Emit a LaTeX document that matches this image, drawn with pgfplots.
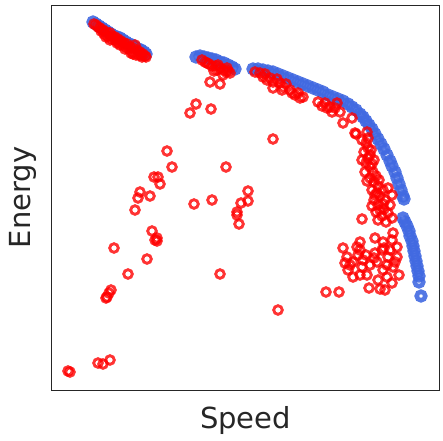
\documentclass[border=0pt]{standalone}
\usepackage{fontspec}
\setmainfont{DejaVu Sans}
\usepackage{pgfplots}
\pgfplotsset{compat=1.18}
\definecolor{rblue}{HTML}{4169E1}
\definecolor{fg}{rgb}{0.15,0.15,0.15}
\begin{document}
\begin{tikzpicture}
\begin{axis}[
  scale only axis, width=387bp, height=385bp,
  xmin=52, xmax=439, ymin=5, ymax=390, y dir=reverse,
  xtick=\empty, ytick=\empty,
  axis line style={draw=fg, line width=1bp},
  xlabel={Speed}, ylabel={Energy},
  xlabel style={at={(axis description cs:0.5,-0.0987)}, anchor=base, inner sep=0pt, font=\fontsize{29bp}{34bp}\selectfont, text=fg},
  ylabel style={at={(axis description cs:-0.0568,0.5)}, anchor=base, inner sep=0pt, rotate=0, font=\fontsize{29bp}{34bp}\selectfont, text=fg},
  clip=false,
]
% blue series
\addplot[only marks, mark=o, mark size=4.3bp, mark options={draw=rblue, line width=4.6bp, draw opacity=0.9}] coordinates {
(93,22)(96,24)(99,26)(102,28)(105,30)(108,32)(111,34)(114,36)(117,37)(120,38)(123,40)(126,42)(129,44)(132,45)(135,47)(138,49)(141,50)(144,52)(146,54)
(196,57)(200,56)(204,57)(208,58)(212,59)(216,60)(220,62)(224,63)(228,65)(232,67)(235,69)
(253,69)(258,69)(263,70)(268,71)(273,72)(278,74)(283,76)(288,78)(293,80)(298,82)(303,84)(308,86)(313,88)(318,90)(323,92)(328,95)(333,97)(338,99)(343,101)(348,104)(352,107)(356,110)(360,114)(363,117)(366,121)(369,125)(372,129)(375,134)(378,139)(381,144)(384,149)(387,155)(390,161)(392,166)(395,172)(397,178)(399,184)(401,190)(403,196)(404,199)
(403,218)(405,222)(407,226)(409,231)(410,236)(412,241)(413,246)(414,251)(415,256)(416,261)(417,266)(418,271)(419,276)(419,282)(421,296)
};
% red series
\addplot[only marks, mark=o, mark size=4.3bp, mark options={draw=red, line width=2.9bp, draw opacity=0.8}] coordinates {
(94,24)(96,25)(98,27)(100,28)(103,30)(106,32)(110,33)(112,36)(115,37)(118,39)(121,41)(124,43)(127,44)(130,47)(133,48)(135,45)(137,50)(140,52)(143,54)(145,56)(141,55)(134,52)(120,45)(110,40)(104,34)(112,39)(118,42)(126,47)(131,53)(136,55)(142,57)(146,57)(101,31)(108,36)(115,40)(123,45)(129,49)(139,55)(106,37)(117,43)(125,49)(133,54)
(202,60)(205,62)(207,63)(212,66)(216,66)(218,65)(220,68)(224,70)(227,68)(228,71)(230,73)(223,75)(217,70)(209,64)(226,72)
(210,82)(220,84)(214,71)
(255,72)(260,73)(263,77)(267,80)(273,82)(280,83)(283,87)(290,90)(295,95)(300,98)(303,97)(273,88)(282,90)(286,84)(277,79)(298,93)(265,74)(270,78)(292,93)
(318,102)(325,103)(330,107)(335,108)(340,112)(332,112)(322,106)(337,103)(327,108)
(343,123)(352,118)(355,133)(367,132)
(356,134)(362,140)(366,143)(368,148)(364,152)(370,155)(362,160)(366,163)(374,160)(370,167)(373,172)(376,176)(370,178)(374,182)(378,186)(372,190)(383,190)(380,196)(388,188)(392,195)(374,200)(378,205)(372,206)(376,212)(382,216)(388,213)(392,218)(384,209)(378,220)(390,205)(367,181)(365,172)(362,219)(368,138)(371,150)(377,193)(385,200)(380,210)(386,222)(368,158)(372,164)(379,180)(375,195)(383,204)
(393,233)(360,242)(375,238)(383,242)(343,248)(357,247)(397,247)(390,250)(347,257)(358,255)(375,253)(388,257)(397,257)(345,263)(353,262)(363,260)(377,262)(370,265)(387,265)(393,267)(348,270)(362,267)(383,270)(353,277)(360,275)(367,275)(378,280)(387,277)(399,275)(392,283)(369,288)(380,289)(385,290)(360,250)(382,250)(395,262)(350,265)(374,258)(366,255)(392,240)(384,248)
(326,292)(339,292)
(68,371)(70,372)(98,363)(103,364)(110,360)
(106,298)(107,297)(109,293)(111,290)
(128,274)(147,259)(114,248)
(152,231)(155,240)(157,238)(157,241)
(135,210)(138,198)(140,192)(150,196)
(154,177)(158,177)(160,184)(167,151)(172,167)
(194,204)(212,200)(226,167)(220,274)
(237,212)(237,215)(239,224)(241,203)(248,201)(248,191)
(273,139)(278,310)
(196,104)(190,113)(211,109)
};
\end{axis}
\path[use as bounding box] ([xshift=-52bp,yshift=-51bp]current axis.south west) rectangle ([xshift=4bp,yshift=5bp]current axis.north east);
\end{tikzpicture}
\end{document}
